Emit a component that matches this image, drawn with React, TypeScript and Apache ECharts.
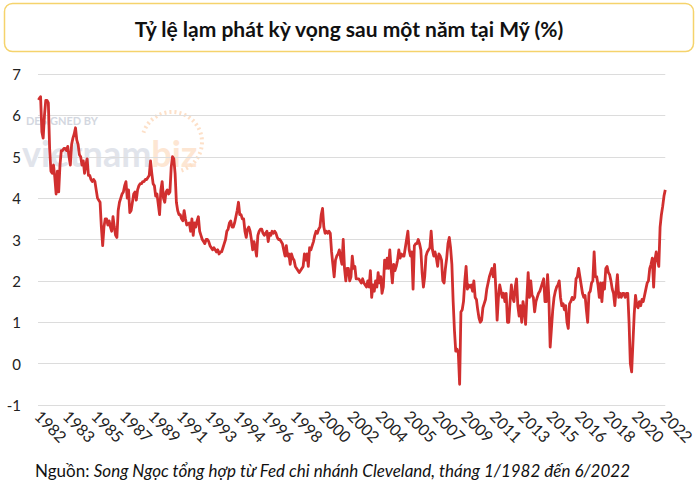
import React, { useEffect, useRef } from "react";
import * as echarts from "echarts";

// Monthly one-year expected inflation (%)
const START_YEAR = 1982;

const y1980s = [
  6.42, 6.4, 6.45, 5.6, 5.45, 6.0, 6.36, 6.36, 6.3, 5.2, 4.65, 4.6,
  4.8, 4.5, 4.1, 4.65, 4.15, 4.8, 5.15, 5.15, 5.2, 5.2, 5.15, 5.25,
  5.0, 4.8, 5.3, 5.45, 5.55, 5.7, 5.4, 5.3, 5.05, 5.0, 4.8, 4.9,
  4.6, 4.8, 4.95, 4.55, 4.55, 4.45, 4.4, 4.45, 4.4, 4.2, 4.0, 3.95,
  3.9, 3.3, 2.85, 3.3, 3.5, 3.5, 3.35, 3.45, 3.3, 3.2, 3.55, 3.3,
  3.1, 3.05, 3.7, 3.9, 4.0, 4.1, 4.15, 4.3, 4.4, 4.0, 4.2, 3.65,
  3.7, 3.9, 4.1, 4.15, 3.95, 4.2, 4.3, 4.35, 4.35, 4.4, 4.4, 4.45,
  4.45, 4.5, 4.55, 4.9, 4.6, 4.35, 4.3, 4.05, 4.1, 3.85, 3.6, 4.2,
];

const y1990s = [
  4.4, 4.0, 3.9, 4.15, 4.2, 4.1, 4.15, 4.75, 5.0, 4.95, 4.6, 3.9,
  3.7, 3.6, 3.6, 3.5, 3.45, 3.7, 3.5, 3.35, 3.38, 3.4, 3.2, 3.5,
  3.1, 3.4, 3.3, 3.45, 3.55, 3.2, 3.1, 3.0, 2.95, 2.9, 3.0, 3.0,
  2.95, 2.85, 2.8, 2.75, 2.8, 2.75, 2.7, 2.75, 2.65, 2.7, 2.7, 2.8,
  2.9, 3.0, 3.2, 3.25, 3.4, 3.45, 3.3, 3.3, 3.4, 3.55, 3.7, 3.9,
  3.6, 3.6, 3.5, 3.5, 3.2, 3.05, 3.25, 3.3, 3.2, 3.0, 2.75, 2.95,
  2.8, 2.6, 3.1, 3.2, 3.25, 3.25, 3.15, 3.1, 3.15, 3.2, 2.95, 3.15,
  3.1, 3.2, 3.15, 3.2, 3.15, 3.05, 3.0, 3.0, 2.95, 2.9, 2.75, 2.6,
  2.85, 2.6, 2.65, 2.4, 2.65, 2.55, 2.5, 2.35, 2.3, 2.25, 2.2, 2.25,
  2.3, 2.35, 2.65, 2.5, 2.65, 2.35, 2.8, 2.75, 2.85, 2.95, 3.1, 3.2,
];

const y2000s = [
  3.15, 3.25, 3.3, 3.6, 3.75, 3.3, 3.15, 3.2, 3.15, 3.2, 3.15, 2.7,
  2.4, 2.1, 2.5, 2.6, 2.65, 2.75, 2.55, 2.4, 3.0, 2.3, 2.0, 2.3,
  2.3, 2.0, 2.1, 2.6, 2.3, 2.35, 2.05, 2.05, 2.05, 2.0, 1.95, 2.05,
  1.95, 1.9, 1.85, 2.0, 1.85, 2.25, 1.6, 1.9, 1.75, 2.0, 1.85, 2.2,
  1.95, 2.1, 1.7, 1.85, 2.5, 2.3, 2.55, 2.3, 2.75, 2.3, 1.95, 2.4,
  2.25, 2.35, 2.5, 2.75, 2.55, 2.65, 2.6, 2.6, 2.8, 3.0, 3.2, 2.75,
  2.6, 2.7, 1.8, 2.85, 2.9, 2.9, 3.0, 2.9, 2.75, 2.2, 1.85, 2.1,
  2.6, 2.7, 2.75, 2.8, 3.2, 2.75, 2.6, 2.7, 2.55, 2.35, 2.65, 2.6,
  2.5, 2.0, 1.95, 2.3, 2.55, 2.9, 3.05, 2.8, 2.4, 1.5, 0.8, 0.3,
  0.35, 0.25, -0.5, 1.25, 1.3, 1.5, 2.0, 2.35, 1.8, 1.9, 1.85, 1.9,
];

const y2010s = [
  1.75, 2.0, 1.6, 1.55, 1.3, 1.1, 1.0, 1.05, 1.35, 1.45, 1.55, 1.8,
  1.95, 2.1, 2.2, 2.3, 2.1, 2.4, 1.8, 1.05, 1.6, 1.9, 1.75, 1.6,
  1.7, 1.5, 1.7, 1.0, 1.0, 1.5, 1.9, 1.6, 1.5, 1.85, 2.05, 1.4,
  1.15, 1.4, 1.0, 1.5, 1.3, 0.95, 1.6, 2.2, 1.6, 2.0, 1.65, 1.6,
  1.25, 1.5, 1.6, 1.7, 1.75, 1.85, 1.95, 2.05, 1.5, 1.5, 2.15, 1.6,
  0.4, 0.85, 1.3, 1.6, 1.75, 1.85, 1.9, 2.0, 1.6, 1.4, 1.45, 1.3,
  1.4, 1.0, 0.85, 1.45, 1.5, 1.6, 1.55, 1.6, 2.05, 2.1, 2.3, 2.1,
  1.9, 1.7, 1.6, 1.65, 1.3, 1.0, 1.7, 1.75, 1.95, 2.0, 2.7, 2.1,
  2.1, 1.9, 1.6, 1.95, 1.5, 1.95, 1.8, 2.3, 2.35, 2.2, 2.15, 2.0,
  1.8, 1.7, 1.4, 1.8, 2.15, 1.6, 1.7, 1.6, 1.7, 1.7, 1.6, 1.7,
];

const y2020s = [
  1.7, 1.0, 0.0, -0.2, 0.5, 1.2, 1.65, 1.4, 1.35, 1.5, 1.4, 1.55,
  1.5, 1.65, 1.8, 1.95, 2.0, 2.3, 2.4, 2.55, 1.85, 2.5, 2.7, 2.5,
  2.35, 3.3, 3.6, 3.8, 4.05, 4.2,
];

const values = [...y1980s, ...y1990s, ...y2000s, ...y2010s, ...y2020s];

const categories = values.map(
  (_, i) =>
    `${START_YEAR + Math.floor(i / 12)}-${String((i % 12) + 1).padStart(2, "0")}`
);

const LABEL_EVERY = 22; // one year label every 22 months, as in the reference

const Y_MIN = -1;
const Y_MAX = 7;
const Y_STEP = 1;

const titleText = "Tỷ lệ lạm phát kỳ vọng sau một năm tại Mỹ (%)";
const sourceLabel = "Nguồn:";
const sourceText =
  "Song Ngọc tổng hợp từ Fed chi nhánh Cleveland, tháng 1/1982 đến 6/2022";

export default function App() {
  const ref = useRef<HTMLDivElement>(null);

  useEffect(() => {
    if (!ref.current) return;
    const chart = echarts.init(ref.current, null, { renderer: "svg" });
    const font = "Lato, 'Noto Sans', sans-serif";
    chart.setOption({
      animation: false,
      backgroundColor: "#ffffff",
      grid: { left: 38, right: 31, top: 74, bottom: 85, containLabel: false },
      xAxis: {
        type: "category",
        data: categories,
        boundaryGap: false,
        axisLine: { show: false },
        axisTick: { show: false },
        splitLine: { show: false },
        axisLabel: {
          interval: (index: number) => index % LABEL_EVERY === 0,
          rotate: -45,
          margin: 8,
          formatter: (v: string) => v.slice(0, 4),
          fontFamily: font,
          fontSize: 16,
          color: "#222222",
        },
      },
      yAxis: {
        type: "value",
        min: Y_MIN,
        max: Y_MAX,
        interval: Y_STEP,
        axisLine: { show: false },
        axisTick: { show: false },
        axisLabel: {
          margin: 17,
          fontFamily: font,
          fontSize: 15,
          color: "#222222",
        },
        splitLine: { lineStyle: { color: "#dcdcdc", width: 1.2 } },
      },
      series: [
        {
          type: "line",
          data: values,
          symbol: "none",
          z: 5,
          lineStyle: { color: "#d12f2f", width: 2.8, join: "round" },
        },
      ],
      graphic: [
        {
          type: "rect",
          z: 1,
          shape: { x: 4.5, y: 3.5, width: 689, height: 48, r: 8 },
          style: { fill: "#ffffff", stroke: "#f5d36c", lineWidth: 1.5 },
        },
        {
          type: "text",
          z: 2,
          x: 349,
          y: 28,
          style: {
            text: titleText,
            fontFamily: font,
            fontWeight: "bold",
            fontSize: 21,
            fill: "#111111",
            align: "center",
            verticalAlign: "middle",
          },
        },
        {
          type: "text",
          z: 0,
          x: 26,
          y: 120,
          style: {
            text: "DESIGNED BY",
            fontFamily: font,
            fontWeight: "bold",
            fontSize: 11,
            fill: "#d3d7e0",
            align: "left",
            verticalAlign: "middle",
          },
        },
        {
          type: "text",
          z: 0,
          x: 22,
          y: 153,
          style: {
            text: "{v|vietnam}{b|biz}",
            fontFamily: font,
            fontWeight: "bold",
            fontSize: 36,
            align: "left",
            verticalAlign: "middle",
            rich: {
              v: { fontFamily: font, fontWeight: "bold", fontSize: 36, fill: "#e1e4eb" },
              b: { fontFamily: font, fontWeight: "bold", fontSize: 36, fill: "#fde6d3" },
            },
          },
        },
        {
          type: "arc",
          z: 0,
          shape: { cx: 172, cy: 142, r: 30, startAngle: -Math.PI * 0.9, endAngle: Math.PI * 0.4 },
          style: { stroke: "#fde0c8", lineWidth: 4, lineDash: [2, 3], fill: "none" },
        },
        {
          type: "text",
          z: 2,
          x: 35,
          y: 470,
          style: {
            text: `{a|${sourceLabel} }{b|${sourceText}}`,
            fontFamily: font,
            fontSize: 17,
            fill: "#111111",
            verticalAlign: "middle",
            rich: {
              a: { fontFamily: font, fontSize: 17, fill: "#111111" },
              b: { fontFamily: font, fontSize: 17, fontStyle: "italic", fill: "#111111" },
            },
          },
        },
      ],
    });
    return () => chart.dispose();
  }, []);

  return (
    <div
      ref={ref}
      style={{ position: "fixed", left: 0, top: 0, width: 698, height: 490 }}
    />
  );
}
